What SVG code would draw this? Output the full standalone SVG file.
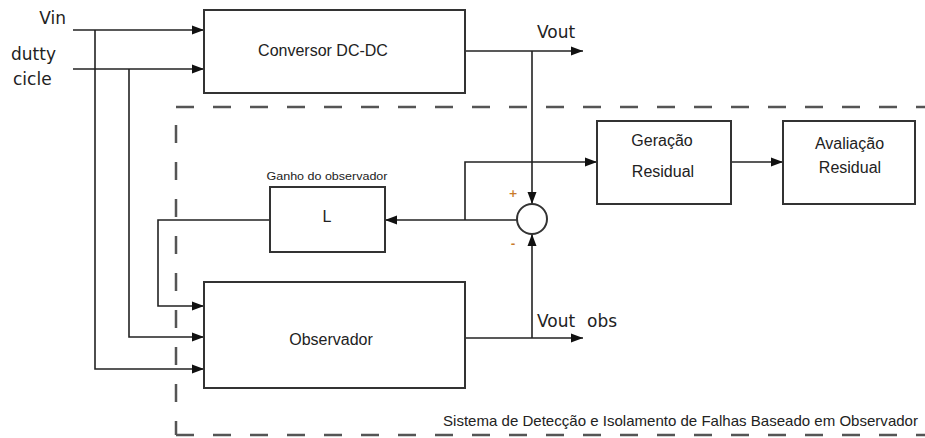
<svg xmlns="http://www.w3.org/2000/svg" width="925" height="438" viewBox="0 0 925 438">
<defs>
<style>
.box{fill:#fff;stroke:#333;stroke-width:2}
.ln{fill:none;stroke:#222;stroke-width:1.6}
.dash{fill:none;stroke:#555;stroke-width:2.5;stroke-dasharray:18 19}
.t{font-family:"Liberation Sans",Arial,sans-serif;font-size:16px;fill:#222;text-anchor:middle}
.d{font-family:"DejaVu Sans",Verdana,sans-serif;font-size:17px;fill:#222}
</style>
<marker id="ah" viewBox="0 0 12 10" refX="12" refY="5" markerWidth="12" markerHeight="10" markerUnits="userSpaceOnUse" orient="auto">
<path d="M0,0.5 L12,5 L0,9.5 Z" fill="#111"/>
</marker>
</defs>
<rect width="925" height="438" fill="#fff"/>
<g id="boundary">
<line class="dash" x1="176" y1="107" x2="925" y2="107"/>
<line class="dash" x1="176" y1="125" x2="176" y2="435"/>
<line class="dash" x1="176" y1="435" x2="925" y2="435"/>
<text x="680.5" y="426" font-family="Liberation Sans,Arial,sans-serif" font-size="15" fill="#222" text-anchor="middle" textLength="475" lengthAdjust="spacingAndGlyphs">Sistema de Detecção e Isolamento de Falhas Baseado em Observador</text>
</g>
<g id="labels">
<text class="d" x="66" y="24" text-anchor="end">Vin</text>
<text class="d" x="11" y="60">dutty</text>
<text class="d" x="13" y="85">cicle</text>
<text class="d" x="537" y="38">Vout</text>
<text class="d" x="537" y="327">Vout<tspan x="587">obs</tspan></text>
<text x="513" y="197" font-family="DejaVu Sans,sans-serif" font-size="11" font-weight="bold" fill="#c87a2a" text-anchor="middle">+</text>
<text x="513" y="247" font-family="DejaVu Sans,sans-serif" font-size="11" font-weight="bold" fill="#c87a2a" text-anchor="middle">-</text>
</g>
<g id="connectors">
<path class="ln" d="M73,30 H204" marker-end="url(#ah)"/>
<path class="ln" d="M73,69 H204" marker-end="url(#ah)"/>
<path class="ln" d="M95,30 V369 H204" marker-end="url(#ah)"/>
<path class="ln" d="M129,69 V337 H204" marker-end="url(#ah)"/>
<path class="ln" d="M270,220 H158 V306 H204" marker-end="url(#ah)"/>
<path class="ln" d="M465,51 H583" marker-end="url(#ah)"/>
<path class="ln" d="M532,51 V204" marker-end="url(#ah)"/>
<path class="ln" d="M465,338 H583" marker-end="url(#ah)"/>
<path class="ln" d="M532,338 V234" marker-end="url(#ah)"/>
<path class="ln" d="M517,220 H385" marker-end="url(#ah)"/>
<path class="ln" d="M465,220 V162 H597" marker-end="url(#ah)"/>
<path class="ln" d="M731,162 H783" marker-end="url(#ah)"/>
</g>
<g id="conversor">
<rect class="box" x="204" y="10" width="261" height="83"/>
<text class="t" x="323" y="56">Conversor DC-DC</text>
</g>
<g id="ganho">
<rect class="box" x="270" y="187" width="115" height="65"/>
<text class="t" x="327" y="222">L</text>
<text x="327" y="180" font-family="Liberation Sans,Arial,sans-serif" font-size="11.5" fill="#222" text-anchor="middle" textLength="121" lengthAdjust="spacingAndGlyphs">Ganho do observador</text>
</g>
<g id="somador">
<circle cx="532" cy="219" r="15" fill="#fff" stroke="#333" stroke-width="2"/>
</g>
<g id="observador">
<rect class="box" x="204" y="282" width="261" height="106"/>
<text class="t" x="331" y="345">Observador</text>
</g>
<g id="geracao">
<rect class="box" x="597" y="121" width="134" height="83"/>
<text class="t" x="662" y="146">Geração</text>
<text class="t" x="663" y="177">Residual</text>
</g>
<g id="avaliacao">
<rect class="box" x="783" y="121" width="132" height="83"/>
<text class="t" x="849.5" y="149">Avaliação</text>
<text class="t" x="850" y="173">Residual</text>
</g>
</svg>
